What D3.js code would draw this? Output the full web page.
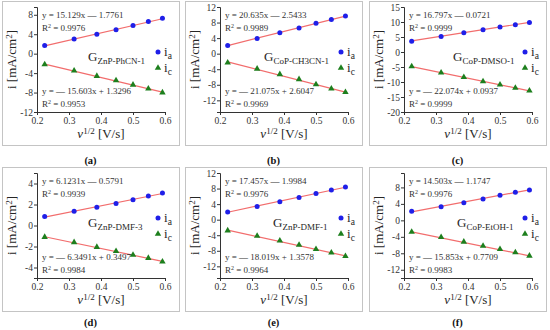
<!DOCTYPE html>
<html>
<head>
<meta charset="utf-8">
<script src="https://cdn.jsdelivr.net/npm/d3@7"></script>
<style>
  body { margin: 0; background: #fff; }
  svg, svg text { font-family: "Liberation Serif", "Times New Roman", "DejaVu Serif", serif; }
</style>
</head>
<body>
<svg id="chart" width="550" height="330"></svg>
<script>
// sqrt of scan rate, shared by all panels
const vHalf = [0.224, 0.316, 0.387, 0.447, 0.5, 0.548, 0.592];
const xTicks = [0.2, 0.3, 0.4, 0.5, 0.6];

const panelLabels = ["(a)", "(b)", "(c)", "(d)", "(e)", "(f)"];
const gSubs = ["ZnP-PhCN-1", "CoP-CH3CN-1", "CoP-DMSO-1", "ZnP-DMF-3", "ZnP-DMF-1", "CoP-EtOH-1"];

// anodic (ia) and cathodic (ic) peak currents, mA/cm2
const iaA = [1.7, 3.0, 4.0, 4.9, 5.8, 6.6, 7.3];
const icA = [-2.2, -3.5, -4.6, -5.5, -6.4, -7.2, -8.0];
const iaB = [2.1, 3.9, 5.4, 6.6, 7.8, 8.8, 9.7];
const icB = [-2.3, -3.9, -5.3, -6.6, -7.9, -9.0, -9.9];
const iaC = [3.6, 5.2, 6.4, 7.4, 8.3, 9.1, 9.8];
const icC = [-4.8, -6.9, -8.4, -9.8, -10.9, -12.0, -12.9];
const iaD = [0.85, 1.35, 1.75, 2.1, 2.45, 2.8, 3.1];
const icD = [-1.1, -1.6, -2.05, -2.45, -2.8, -3.1, -3.45];
const iaE = [2.0, 3.4, 4.6, 5.7, 6.7, 7.6, 8.4];
const icE = [-2.8, -4.2, -5.4, -6.5, -7.6, -8.5, -9.4];
const iaF = [2.2, 3.3, 4.3, 5.2, 6.1, 6.8, 7.4];
const icF = [-2.8, -4.1, -5.2, -6.2, -7.0, -7.8, -8.6];

// linear fits printed on the chart
const slopeA = [15.129, 20.635, 16.797, 6.1231, 17.457, 14.503];
const interA = [-1.7761, -2.5433, -0.0721, -0.5791, -1.9984, -1.1747];
const r2A = ["0.9976", "0.9989", "0.9999", "0.9939", "0.9976", "0.9976"];
const slopeC = [-15.603, -21.075, -22.074, -6.3491, -18.019, -15.853];
const interC = [1.3296, 2.6047, 0.0937, 0.3497, 1.3578, 0.7709];
const r2C = ["0.9953", "0.9969", "0.9999", "0.9984", "0.9964", "0.9983"];

const yDomains = [[-12, 9.6], [-15, 12], [-20, 15], [-5, 5], [-15, 12], [-14, 11.5]];
const yTicks = [
  [-12, -8, -4, 0, 4, 8],
  [-12, -8, -4, 0, 4, 8, 12],
  [-20, -15, -10, -5, 0, 5, 10, 15],
  [-4, -2, 0, 2, 4],
  [-12, -8, -4, 0, 4, 8, 12],
  [-12, -8, -4, 0, 4, 8]
];

const iaSets = [iaA, iaB, iaC, iaD, iaE, iaF];
const icSets = [icA, icB, icC, icD, icE, icF];

const svg = d3.select("#chart");
const FONT = "Liberation Serif, Times New Roman, serif";

// layout
const colX = [2, 185, 369];
const rowY = [1, 167];
const labelY = [164, 326];
const gLabelX = [86, 79, 84, 86, 88, 88];
const frameW = 177, frameH = 144;
const plotL = 35, plotR = 163, plotT = 6, plotB = 111;

const lineColor = "#f26d6d";
const blue = "#1f1fe8";
const green = "#1d7f1d";
const ink = "#262626";

function fmtEq(slope, inter) {
  const s = slope < 0 ? "— " + Math.abs(slope) : "" + slope;
  const b = inter < 0 ? " — " + Math.abs(inter) : " + " + inter;
  return "y = " + s + "x" + b;
}

function drawPanel(i) {
  const row = Math.floor(i / 3);
  const fx = colX[i % 3];
  const fy = rowY[row];
  const g = svg.append("g").attr("transform", `translate(${fx},${fy})`);

  g.append("rect")
    .attr("x", 0.5).attr("y", 0.5)
    .attr("width", frameW).attr("height", frameH)
    .attr("fill", "none").attr("stroke", "#c4c4c4");

  const x = d3.scaleLinear().domain([0.2, 0.6]).range([plotL, plotR]);
  const y = d3.scaleLinear().domain(yDomains[i]).range([plotB, plotT]);

  const xAxis = g.append("g")
    .attr("transform", `translate(0,${plotB})`)
    .call(d3.axisBottom(x).tickValues(xTicks).tickFormat(d3.format(".1f")).tickSize(3).tickPadding(2));
  const yAxis = g.append("g")
    .attr("transform", `translate(${plotL},0)`)
    .call(d3.axisLeft(y).tickValues(yTicks[i]).tickFormat(d => d < 0 ? "-" + Math.abs(d) : d).tickSize(3).tickPadding(1));
  [xAxis, yAxis].forEach(a => {
    a.attr("font-family", FONT);
    a.select(".domain").attr("stroke", "#333");
    a.selectAll(".tick line").attr("stroke", "#333");
    a.selectAll(".tick text").attr("fill", "#333").attr("font-size", 9.5);
  });

  // fit lines
  const x0 = vHalf[0], x1 = vHalf[vHalf.length - 1];
  [[slopeA[i], interA[i]], [slopeC[i], interC[i]]].forEach(([m, b]) => {
    g.append("line")
      .attr("x1", x(x0)).attr("y1", y(m * x0 + b))
      .attr("x2", x(x1)).attr("y2", y(m * x1 + b))
      .attr("stroke", lineColor).attr("stroke-width", 1.2);
  });

  g.selectAll(".pa").data(iaSets[i]).enter().append("circle")
    .attr("cx", (d, k) => x(vHalf[k])).attr("cy", d => y(d))
    .attr("r", 2.5).attr("fill", blue);

  const tri = d3.symbol().type(d3.symbolTriangle).size(18);
  g.selectAll(".pc").data(icSets[i]).enter().append("path")
    .attr("d", tri)
    .attr("transform", (d, k) => `translate(${x(vHalf[k])},${y(d)})`)
    .attr("fill", green);

  // equations
  const eq = (ty, txt) => g.append("text").attr("x", plotL + 5).attr("y", ty)
    .attr("font-size", 9).attr("fill", "#333").text(txt);
  eq(17, fmtEq(slopeA[i], interA[i]));
  const r1 = eq(30, "R");
  r1.append("tspan").attr("dy", -3.5).attr("font-size", 6).text("2");
  r1.append("tspan").attr("dy", 3.5).text(" = " + r2A[i]);
  eq(93, fmtEq(slopeC[i], interC[i]));
  const r2 = eq(106, "R");
  r2.append("tspan").attr("dy", -3.5).attr("font-size", 6).text("2");
  r2.append("tspan").attr("dy", 3.5).text(" = " + r2C[i]);

  // sample label
  const gl = g.append("text").attr("x", gLabelX[i]).attr("y", 60)
    .attr("font-size", 13).attr("fill", ink).text("G");
  gl.append("tspan").attr("dy", 3).attr("font-size", 9).text(gSubs[i]);

  // legend
  g.append("circle").attr("cx", 156).attr("cy", 51).attr("r", 2.5).attr("fill", blue);
  const la = g.append("text").attr("x", 162).attr("y", 55).attr("font-size", 13).attr("fill", ink).text("i");
  la.append("tspan").attr("dy", 3).attr("font-size", 9.5).text("a");
  g.append("path").attr("d", tri).attr("transform", "translate(156,67)").attr("fill", green);
  const lc = g.append("text").attr("x", 162).attr("y", 71).attr("font-size", 13).attr("fill", ink).text("i");
  lc.append("tspan").attr("dy", 3).attr("font-size", 9.5).text("c");

  // axis titles
  const yl = g.append("text")
    .attr("transform", `translate(14,${(plotT + plotB) / 2}) rotate(-90)`)
    .attr("text-anchor", "middle").attr("font-size", 13).attr("fill", ink)
    .text("i [mA/cm");
  yl.append("tspan").attr("dy", -4.5).attr("font-size", 9).text("2");
  yl.append("tspan").attr("dy", 4.5).text("]");

  const xl = g.append("text")
    .attr("x", (plotL + plotR) / 2).attr("y", 137)
    .attr("text-anchor", "middle").attr("font-size", 13).attr("fill", ink);
  xl.append("tspan").attr("font-style", "italic").text("v");
  xl.append("tspan").attr("dy", -4.5).attr("font-size", 9).text("1/2");
  xl.append("tspan").attr("dy", 4.5).text(" [V/s]");

  // panel letter
  svg.append("text").attr("x", fx + frameW / 2).attr("y", labelY[row])
    .attr("text-anchor", "middle").attr("font-size", 10.5).attr("font-weight", "bold")
    .attr("fill", "#111").text(panelLabels[i]);
}

for (let i = 0; i < 6; i++) drawPanel(i);
</script>
</body>
</html>
